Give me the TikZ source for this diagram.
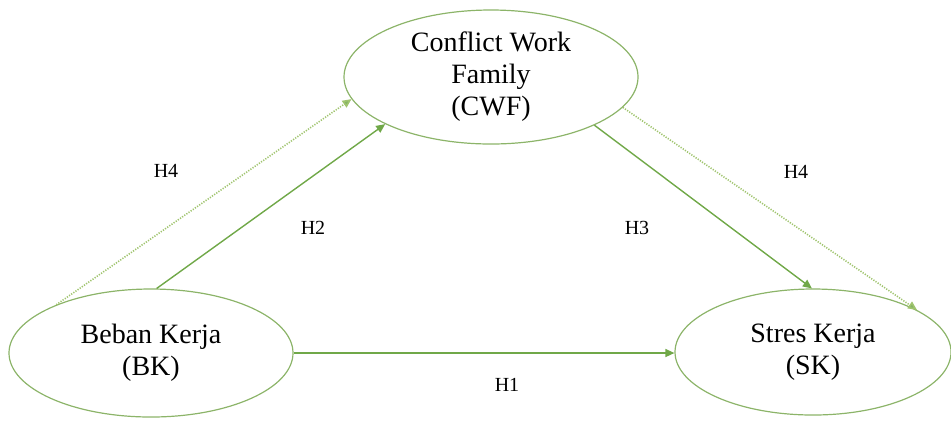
\documentclass[tikz,border=0pt]{standalone}
\usepackage{fontspec}
\setmainfont{Liberation Serif}
\usetikzlibrary{arrows.meta,shapes.geometric}
\definecolor{ellcol}{RGB}{140,180,105}
\definecolor{arrcol}{RGB}{112,168,72}
\definecolor{dotcol}{RGB}{160,196,110}
\tikzset{
  var/.style={ellipse,draw=ellcol,line width=0.6pt,inner sep=0pt,align=center,
    font=\fontsize{14}{16}\selectfont},
  link/.style={draw=arrcol,line width=0.7pt,-{Triangle[length=4.5pt,width=4pt]}},
  dotlink/.style={draw=dotcol,line width=0.8pt,dash pattern=on 0.6pt off 0.7pt,-{Triangle[length=4.5pt,width=4pt,fill=arrcol!85]}},
  hlab/.style={font=\fontsize{10}{12}\selectfont,inner sep=0pt}
}
\begin{document}
\begin{tikzpicture}[x=0.5pt,y=-0.5pt]
\useasboundingbox (0,0) rectangle (951,420);
\node[var,minimum width=147pt,minimum height=67pt] (cwf) at (491,77) {Conflict Work\\Family\\(CWF)};
\node[var,minimum width=142pt,minimum height=64pt] (bk) at (151,353) {Beban Kerja\\(BK)};
\node[var,minimum width=138pt,minimum height=63pt] (sk) at (813,352) {Stres Kerja\\(SK)};
\draw[link] (bk.east) -- (bk.east -| sk.west);
\draw[link] (bk.85) -- (cwf.204);
\draw[link] (cwf.335.7) -- (sk.91);
\draw[dotlink] (bk.153) -- (cwf.189.5);
\draw[dotlink] (cwf.347.8) -- (sk.22);
\node[hlab] (h4a) at (166,171) {H4};
\node[hlab] (h2) at (313,228) {H2};
\node[hlab] (h3) at (637,228) {H3};
\node[hlab] (h4b) at (796,172) {H4};
\node[hlab] (h1) at (507,385) {H1};
\end{tikzpicture}
\end{document}
